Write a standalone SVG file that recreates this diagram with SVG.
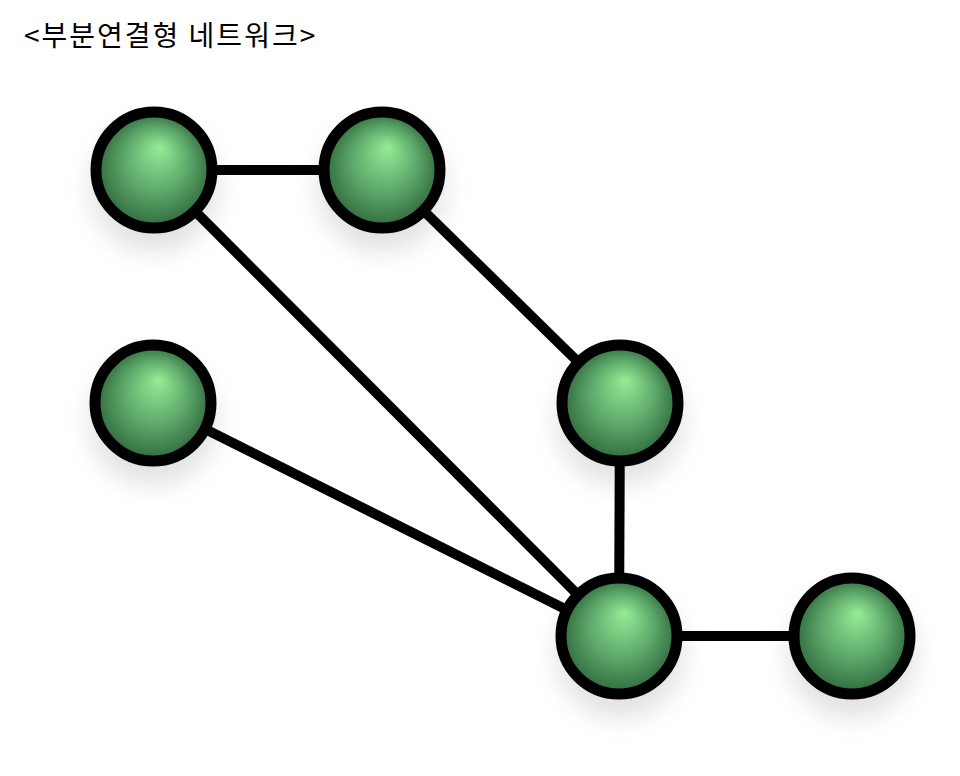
<svg xmlns="http://www.w3.org/2000/svg" width="960" height="776" viewBox="0 0 960 776">
<defs>
<radialGradient id="g" cx="0.5" cy="0.5" r="0.5" fx="0.55" fy="0.3">
<stop offset="0" stop-color="#96ec96"/>
<stop offset="0.55" stop-color="#5ea96b"/>
<stop offset="1" stop-color="#306a3e"/>
</radialGradient>
<filter id="sh" x="-50%" y="-50%" width="200%" height="200%">
<feGaussianBlur stdDeviation="12"/>
</filter>
<style>
.edge{stroke:#000;stroke-width:10;fill:none}
.node{fill:url(#g);stroke:#000;stroke-width:11}
.shadow{fill:#e2e2e2;filter:url(#sh)}
.title{font-family:"Noto Sans CJK KR","Noto Sans",sans-serif;font-size:28px;letter-spacing:2px;fill:#000}
</style>
</defs>
<rect width="960" height="776" fill="#fff"/>
<text class="title" x="24" y="46">&lt;부분연결형 네트워크&gt;</text>
<g id="shadows">
<circle class="shadow" cx="154" cy="188" r="64"/>
<circle class="shadow" cx="382" cy="188" r="64"/>
<circle class="shadow" cx="153" cy="421" r="64"/>
<circle class="shadow" cx="620" cy="421" r="64"/>
<circle class="shadow" cx="620" cy="654" r="64"/>
<circle class="shadow" cx="852" cy="654" r="64"/>
</g>
<g id="connectors">
<line class="edge" x1="154" y1="170" x2="382" y2="170"/>
<line class="edge" x1="154" y1="170" x2="619" y2="636"/>
<line class="edge" x1="382" y1="170" x2="620" y2="403"/>
<line class="edge" x1="153" y1="403" x2="619" y2="636"/>
<line class="edge" x1="620" y1="403" x2="619" y2="636"/>
<line class="edge" x1="619" y1="636" x2="852" y2="636"/>
</g>
<g id="n1"><circle class="node" cx="154" cy="170" r="58"/></g>
<g id="n2"><circle class="node" cx="382" cy="170" r="58"/></g>
<g id="n3"><circle class="node" cx="153" cy="403" r="58"/></g>
<g id="n4"><circle class="node" cx="620" cy="403" r="58"/></g>
<g id="n5"><circle class="node" cx="619" cy="636" r="58"/></g>
<g id="n6"><circle class="node" cx="852" cy="636" r="58"/></g>
</svg>
